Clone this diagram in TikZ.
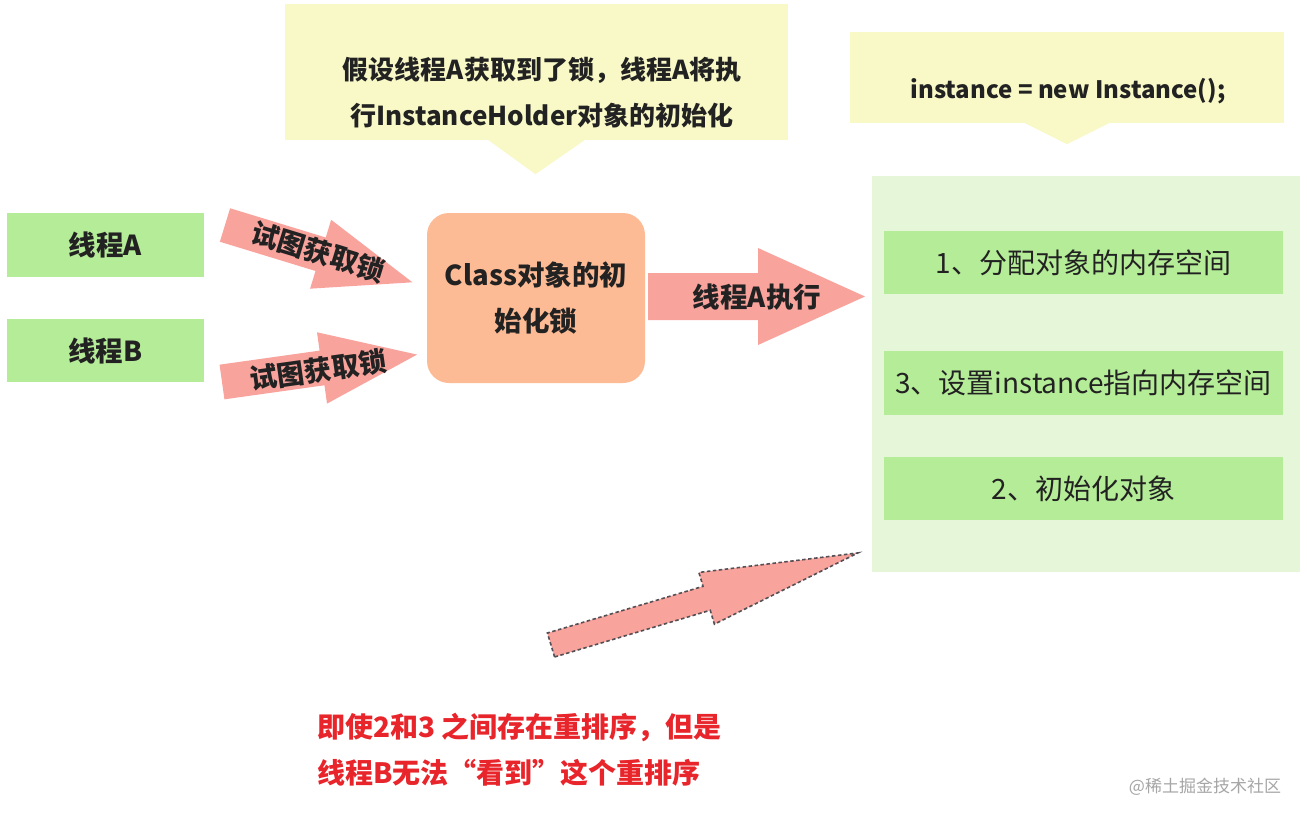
\documentclass[tikz,border=0pt]{standalone}
\usepackage{fontspec}
\setmainfont{Noto Sans CJK SC}
\usetikzlibrary{calc}
\definecolor{callY}{HTML}{F9F9C8}
\definecolor{boxG}{HTML}{B5EC98}
\definecolor{panelG}{HTML}{E5F7D8}
\definecolor{peach}{HTML}{FDBB95}
\definecolor{pinkA}{HTML}{F9A39D}
\definecolor{redT}{HTML}{E8252B}
\definecolor{txt}{HTML}{222222}
\definecolor{dashC}{HTML}{555055}
% #2 tail centre, #3 angle, #4 length, #5 shaft half width, #6 head half width, #7 head length
\newcommand\blkarrow[7][]{%
  \begin{scope}[shift={(#2)}, rotate=#3]
    \fill[pinkA,#1] (0,#5) -- ({#4-#7},#5) -- ({#4-#7},#6) -- (#4,0)
      -- ({#4-#7},-#6) -- ({#4-#7},-#5) -- (0,-#5) -- cycle;
  \end{scope}}
\tikzset{
  boldtxt/.style={font=\fontsize{27.5pt}{46pt}\selectfont\bfseries, text=txt},
  calltxt/.style={font=\fontsize{26pt}{46pt}\selectfont\bfseries, text=txt},
  regtxt/.style={font=\fontsize{28pt}{32pt}\selectfont, text=txt},
  callbox/.style={fill=callY, draw=none, inner sep=0pt},
  greenbox/.style={fill=boxG, draw=none, inner sep=0pt},
}
\begin{document}
\begin{tikzpicture}[x=1pt, y=-1pt]
\useasboundingbox[fill=white] (0,0) rectangle (1307,819);

% callout 1
\node[callbox, minimum width=503pt, minimum height=136pt] (c1) at (536.5,72) {};
\fill[callY] ($(c1.south)+(-48,0)$) -- ($(c1.south)+(48,0)$) -- ($(c1.south)+(-1,34)$) -- cycle;
\node[calltxt, align=center] (c1t) at (542,93) {假设线程A获取到了锁，线程A将执\\行InstanceHolder对象的初始化};

% callout 2
\node[callbox, minimum width=434pt, minimum height=91pt] (c2) at (1067,77.5) {};
\fill[callY] ($(c2.south)+(-42,0)$) -- ($(c2.south)+(42,0)$) -- ($(c2.south)+(0,21)$) -- cycle;
\node[calltxt, font=\fontsize{24pt}{30pt}\selectfont\bfseries] (c2t) at (1068,91) {instance = new Instance();};

% thread boxes
\node[greenbox, boldtxt, minimum width=197pt, minimum height=64pt] (ta) at (105.5,245) {线程A};
\node[greenbox, boldtxt, minimum width=197pt, minimum height=63pt] (tb) at (105.5,350.5) {线程B};

% lock box
\node[fill=peach, rounded corners=22pt, minimum width=218pt, minimum height=170pt,
      boldtxt, align=center] (lock) at (536,298) {Class对象的初\\始化锁};

% panel
\node[fill=panelG, minimum width=428pt, minimum height=396pt, inner sep=0pt] (panel) at (1086,374) {};
\node[greenbox, regtxt, minimum width=399pt, minimum height=63pt] (s1) at (1083.5,262.5) {1、分配对象的内存空间};
\node[greenbox, regtxt, minimum width=399pt, minimum height=64pt] (s3) at (1083.5,383) {3、设置instance指向内存空间};
\node[greenbox, regtxt, minimum width=399pt, minimum height=63pt] (s2) at (1083.5,488.5) {2、初始化对象};

% block arrows
\blkarrow{225,225}{-17}{196}{17.5}{36}{96}
\node[boldtxt, rotate=-17] (l1) at (318,252) {试图获取锁};
\blkarrow{222,382}{8}{197}{17.5}{36}{96}
\node[boldtxt, rotate=8] (l2) at (318,370) {试图获取锁};
\blkarrow{648,296.5}{0}{217}{23.5}{48.5}{107}
\node[boldtxt] (l3) at (757,297) {线程A执行};
\blkarrow[draw=dashC, line width=1.6pt, dash pattern=on 3.5pt off 2.5pt]{551,645}{16.7}{320.5}{12.5}{27}{158}

% red note
\node[boldtxt, font=\fontsize{28pt}{46pt}\selectfont\bfseries, text=redT, align=left, anchor=west, inner sep=0pt] (note) at (317,750)
  {即使2和3 之间存在重排序，但是\\线程B无法“看到”这个重排序};

% watermark
\node[font=\fontsize{17pt}{20pt}\selectfont, text=black!35] (wm) at (1205,787) {@稀土掘金技术社区};
\end{tikzpicture}
\end{document}
